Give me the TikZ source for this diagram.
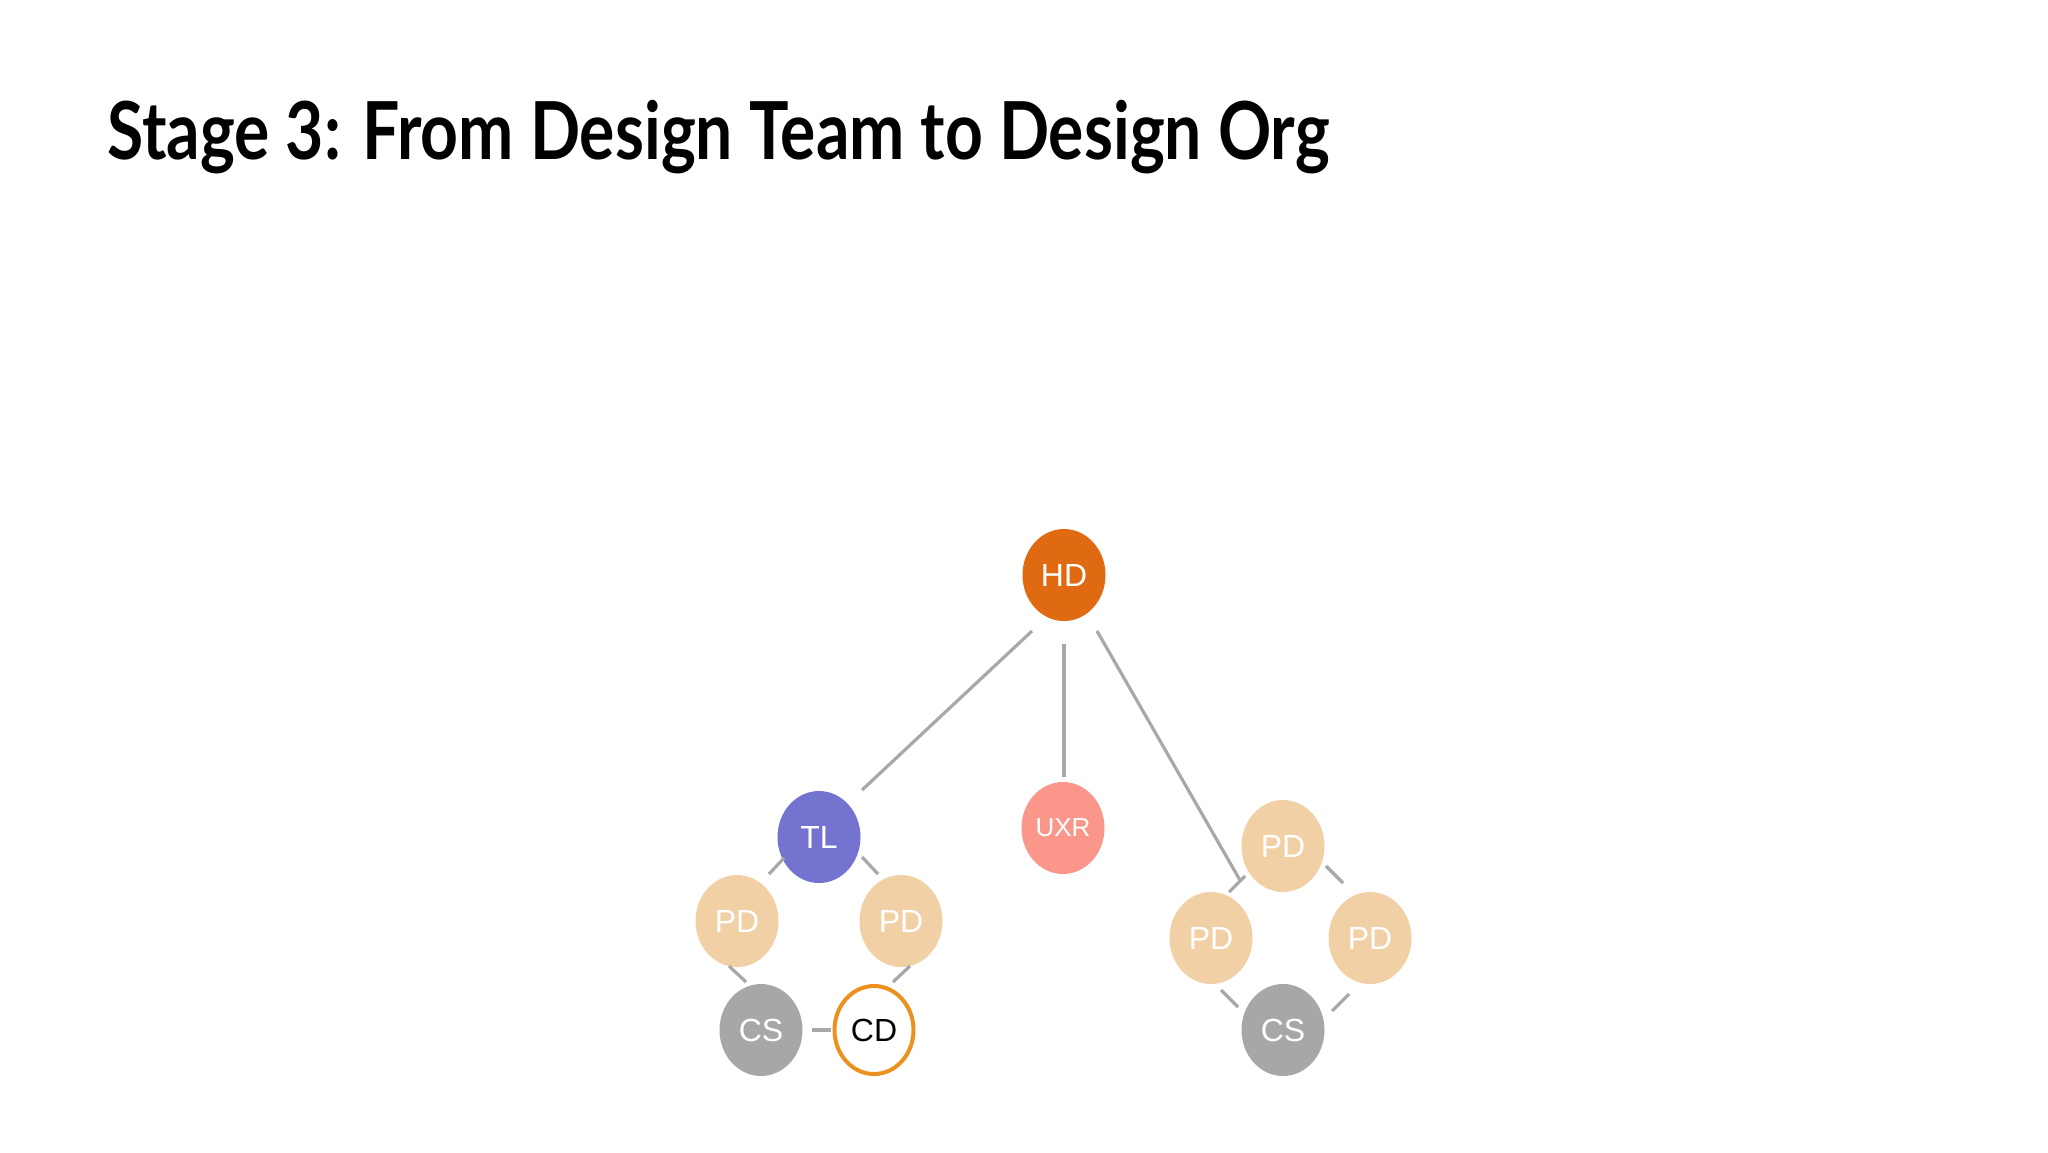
\documentclass[tikz,border=0pt]{standalone}
\usepackage{fontspec}
\setmainfont{Liberation Sans}
\newfontfamily\titlefont{Lato}
\usetikzlibrary{shapes.geometric,calc}
\definecolor{hdc}{RGB}{224,106,18}
\definecolor{tlc}{RGB}{116,116,208}
\definecolor{uxrc}{RGB}{250,150,138}
\definecolor{pdc}{RGB}{242,208,166}
\definecolor{csc}{RGB}{166,168,167}
\definecolor{cdc}{RGB}{236,145,30}
\definecolor{linec}{RGB}{168,168,170}
\tikzset{
  person/.style={ellipse, minimum width=41.5pt, minimum height=46pt, inner sep=0pt,
    text=white, font=\fontsize{16}{19}\selectfont},
  link/.style={draw=linec, line width=1.6pt}
}
\begin{document}
\begin{tikzpicture}[x=0.5pt,y=-0.5pt]
\useasboundingbox[fill=white] (0,0) rectangle (2048,1152);
\node[anchor=base west, inner sep=0pt, font=\titlefont\bfseries\fontsize{40}{46}\selectfont] (title) at (107,159) {\scalebox{0.825}[1]{Stage 3: From Design Team to Design Org}};
\node[person, fill=hdc] (HD) at (1064,575) {HD};
\node[person, fill=tlc] (TL) at (819,837) {TL};
\node[person, fill=uxrc, font=\fontsize{13}{15}\selectfont] (UXR) at (1063,828) {UXR};
\node[person, fill=pdc] (PDLa) at (737,921) {PD};
\node[person, fill=pdc] (PDLb) at (901,921) {PD};
\node[person, fill=csc] (CSL) at (761,1030) {CS};
\node[person, fill=white, draw=cdc, line width=2pt, minimum width=39.5pt, minimum height=44pt, text=black] (CD) at (874,1030) {CD};
\node[person, fill=pdc] (PDRt) at (1283,846) {PD};
\node[person, fill=pdc] (PDRl) at (1211,938) {PD};
\node[person, fill=pdc] (PDRr) at (1370,938) {PD};
\node[person, fill=csc] (CSR) at (1283,1030) {CS};
% connectors
\draw[link] ($(HD)+(-32,56)$) -- ($(TL)+(43,-47)$);
\draw[link] ($(HD)+(0,69)$) -- ($(UXR)+(1,-51)$);
\coordinate (Rend) at ($(PDRt)+(-42,36)$);
\draw[link] ($(HD)+(33,56)$) -- (Rend);
\draw[link] ($(TL)+(-35,21)$) -- ($(PDLa)+(32,-47)$);
\draw[link] ($(TL)+(43,20)$) -- ($(PDLb)+(-23,-47)$);
\draw[link] ($(PDLa)+(-8,45)$) -- ($(CSL)+(-15,-48)$);
\draw[link] ($(PDLb)+(9,45)$) -- ($(CD)+(19,-48)$);
\draw[link] ($(CSL)+(51,0)$) -- ($(CD)+(-43,0)$);
\draw[link] ($(PDRt)+(-38,30)$) -- ($(PDRl)+(18,-46)$);
\draw[link] ($(PDRt)+(43,20)$) -- ($(PDRr)+(-27,-55)$);
\draw[link] ($(PDRl)+(10,52)$) -- ($(CSR)+(-45,-23)$);
\draw[link] ($(PDRr)+(-21,56)$) -- ($(CSR)+(49,-19)$);
\end{tikzpicture}
\end{document}
